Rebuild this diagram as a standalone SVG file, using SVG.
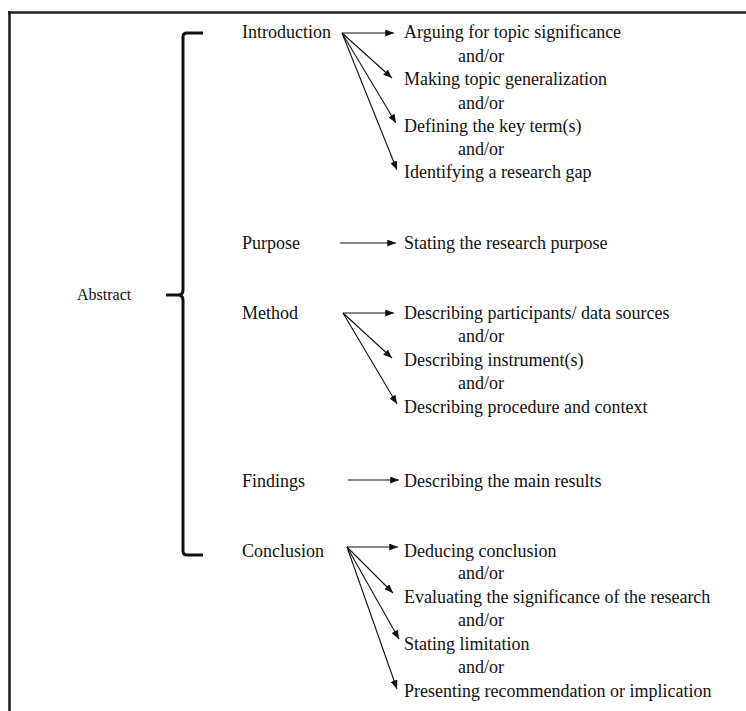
<svg xmlns="http://www.w3.org/2000/svg" width="746" height="711" viewBox="0 0 746 711">
<style>
text{font-family:"Liberation Serif","Times New Roman",serif;font-size:18px;fill:#111}
.ab{font-size:16px}
.c line{stroke:#111;stroke-width:1.1;marker-end:url(#ah)}
.frame{stroke:#222;stroke-width:2.6;fill:none}
.br{stroke:#111;stroke-width:3;fill:none;stroke-linejoin:round}
</style>
<defs>
<marker id="ah" viewBox="0 0 10 8" refX="10" refY="4" markerWidth="9" markerHeight="7" markerUnits="userSpaceOnUse" orient="auto">
<path d="M0,0 L10,4 L0,8 z" fill="#111"/>
</marker>
</defs>
<rect width="746" height="711" fill="#fff"/>
<g id="frame">
<line class="frame" x1="8" y1="12.5" x2="746" y2="12.5"/>
<line class="frame" x1="9.5" y1="11" x2="9.5" y2="711"/>
</g>
<g id="abstract">
<text class="ab" x="77" y="300">Abstract</text>
<path class="br" d="M203,33 L187,33 Q183,33 183,37 L183,290 Q183,295 178,295 L166,295 M178,295 Q183,295 183,300 L183,551 Q183,555 187,555 L203,555"/>
</g>
<g id="introduction">
<text x="242" y="38">Introduction</text>
<text x="404" y="38">Arguing for topic significance</text>
<text x="458" y="61.5">and/or</text>
<text x="404" y="85">Making topic generalization</text>
<text x="458" y="108.5">and/or</text>
<text x="404" y="132">Defining the key term(s)</text>
<text x="458" y="155">and/or</text>
<text x="404" y="178">Identifying a research gap</text>
</g>
<g id="purpose">
<text x="242" y="249">Purpose</text>
<text x="404" y="249">Stating the research purpose</text>
</g>
<g id="method">
<text x="242" y="319">Method</text>
<text x="404" y="319">Describing participants/ data sources</text>
<text x="458" y="342">and/or</text>
<text x="404" y="366">Describing instrument(s)</text>
<text x="458" y="389">and/or</text>
<text x="404" y="413">Describing procedure and context</text>
</g>
<g id="findings">
<text x="242" y="487">Findings</text>
<text x="404" y="487">Describing the main results</text>
</g>
<g id="conclusion">
<text x="242" y="557">Conclusion</text>
<text x="404" y="557">Deducing conclusion</text>
<text x="458" y="579">and/or</text>
<text x="404" y="603">Evaluating the significance of the research</text>
<text x="458" y="626">and/or</text>
<text x="404" y="650">Stating limitation</text>
<text x="458" y="673">and/or</text>
<text x="404" y="697">Presenting recommendation or implication</text>
</g>
<g id="connectors" class="c">
<line x1="342" y1="33" x2="394" y2="33"/>
<line x1="342" y1="33" x2="392" y2="78"/>
<line x1="342" y1="33" x2="396" y2="123"/>
<line x1="342" y1="33" x2="397" y2="170"/>
<line x1="340" y1="243" x2="396" y2="243"/>
<line x1="343" y1="313" x2="394" y2="313"/>
<line x1="343" y1="313" x2="392" y2="358"/>
<line x1="343" y1="313" x2="397" y2="404"/>
<line x1="348" y1="480" x2="399" y2="480"/>
<line x1="347" y1="547" x2="398" y2="547"/>
<line x1="347" y1="547" x2="393" y2="593"/>
<line x1="347" y1="547" x2="399" y2="639"/>
<line x1="347" y1="547" x2="397" y2="689"/>
</g>
</svg>
